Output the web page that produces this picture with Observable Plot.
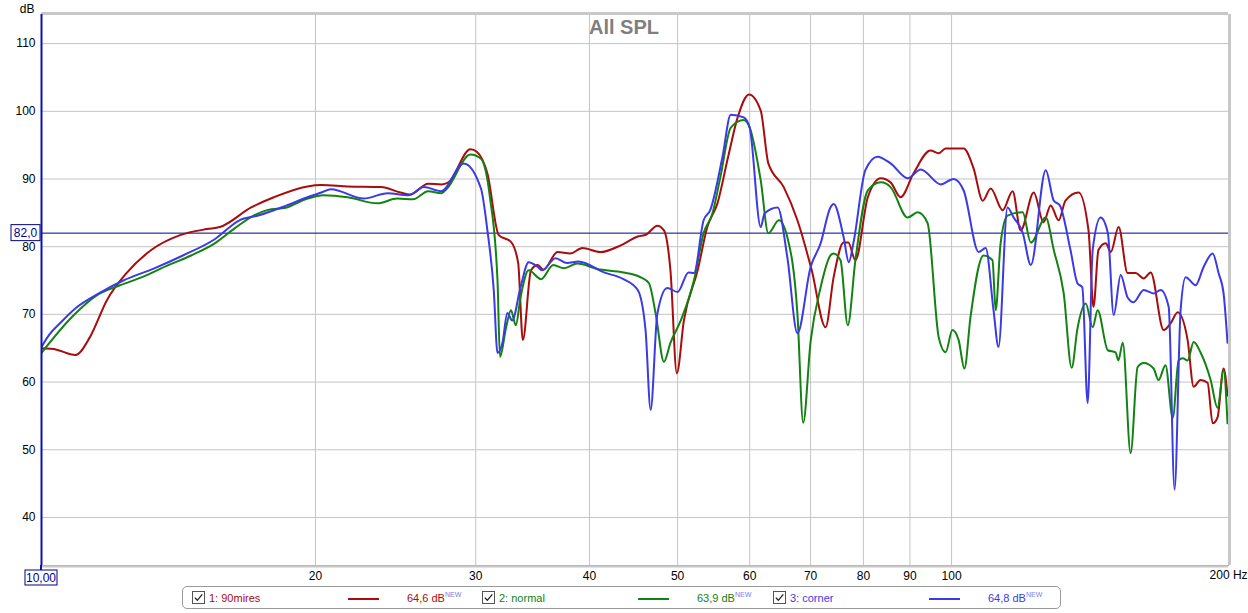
<!DOCTYPE html>
<html>
<head>
<meta charset="utf-8">
<script src="https://cdn.jsdelivr.net/npm/d3@7"></script>
<script src="https://cdn.jsdelivr.net/npm/@observablehq/plot@0.6"></script>
<style>
  html, body { margin: 0; padding: 0; background: #ffffff; }
  #wrap { position: relative; width: 1248px; height: 613px; font-family: "Liberation Sans", Arial, sans-serif; }
  #chart { position: absolute; left: 0; top: 0; }
  #legend { position: absolute; left: 182px; top: 586px; width: 879px; height: 23px; border: 1px solid #9a9a9a; border-radius: 5px; box-sizing: border-box; font-size: 11px; }
  .item { position: absolute; top: 4px; white-space: nowrap; line-height: 14px; }
  .cb { position: absolute; top: 4px; width: 13px; height: 13px; }
  .sw { position: absolute; top: 11px; height: 2px; width: 31px; }
  sup { font-size: 7px; color: #7a7af0; vertical-align: top; position: relative; top: -3px; }
</style>
</head>
<body>
<div id="wrap">
  <div id="chart"></div>
  <div id="legend"></div>
</div>
<script>
// ---- data ----
const xTicks = [20, 30, 40, 50, 60, 70, 80, 90, 100];
const yTicks = [40, 50, 60, 70, 80, 90, 100, 110];
const refLevel = 82.0;
const seriesNames = ["1: 90mires", "2: normal", "3: corner"];
const seriesLevels = ["64,6 dB", "63,9 dB", "64,8 dB"];
const seriesColors = ["#a80c0c", "#128212", "#3a3ae6"];

const redFreq = [10.0,10.3,10.9,11.3,11.8,12.4,13.2,14.2,15.2,15.7,17.0,18.0,19.6,20.3,21.7,23.6,24.8,25.4,26.6,27.5,28.0,29.6,30.1,30.9,31.8,32.8,33.4,33.8,34.5,35.1,35.6,36.9,38.1,39.3,41.1,43.3,45.2,46.2,47.5,48.3,49.1,49.9,50.8,52.6,53.9,55.3,56.8,58.2,59.9,61.7,62.9,65.4,67.7,70.2,72.7,74.2,76.1,77.0,78.4,80.9,83.6,85.7,87.9,90.8,94.8,96.8,98.5,103.1,105.7,108.2,110.4,113.8,116.7,119.1,123.1,126.2,128.5,131.1,133.4,137.9,141.4,143.2,145.0,147.7,149.6,152.6,156.1,159.3,162.6,165.5,171.0,174.1,177.2,181.7,184.5,187.7,191.1,193.6,196.0,199.0,201.0];
const redDb   = [65.0,64.9,64.0,66.6,72.1,76.1,79.5,81.7,82.6,82.9,85.8,87.3,88.9,89.1,88.9,88.8,88.0,87.7,89.3,89.2,89.5,94.4,94.0,90.8,81.7,80.7,77.6,66.2,76.5,77.3,76.6,79.2,79.0,79.8,79.2,80.2,81.5,81.8,83.1,82.4,76.5,61.3,69.1,76.5,82.9,86.4,93.2,99.1,102.5,100.1,92.3,88.8,83.9,76.5,68.1,75.5,80.6,80.6,78.0,87.3,90.1,89.5,87.3,90.8,94.2,93.8,94.5,94.5,91.6,86.8,88.6,85.4,88.2,82.4,88.0,83.6,86.1,83.9,86.8,88.0,82.4,71.1,79.5,80.5,79.2,82.9,76.1,76.1,75.3,76.2,67.7,68.7,70.3,66.2,59.3,60.3,59.9,53.9,54.8,62.0,58.0];

const greenFreq = [10.0,10.8,11.5,12.2,12.9,13.8,14.6,15.5,16.3,17.1,17.7,18.6,19.6,20.4,21.7,23.4,24.6,25.6,26.6,27.5,27.9,29.6,30.4,31.1,31.7,31.9,32.4,32.8,33.2,33.6,34.3,35.4,36.5,37.5,38.8,40.8,43.6,45.5,46.5,47.3,48.3,49.1,50.4,52.1,53.4,54.6,55.7,57.2,59.1,60.0,61.7,62.9,64.6,66.0,67.7,68.7,70.0,71.8,73.6,74.2,75.5,76.9,78.4,80.9,83.6,85.7,89.5,91.8,94.1,96.8,98.5,100.2,101.8,103.3,104.9,108.4,110.9,111.8,113.2,115.2,119.7,122.2,126.9,129.5,132.8,135.5,137.5,140.4,142.9,144.7,148.5,151.4,152.5,154.2,157.3,160.1,162.6,166.7,168.8,171.8,175.0,177.6,179.5,181.7,184.5,187.7,192.6,196.0,199.0,201.0];
const greenDb   = [64.3,69.6,72.8,74.3,75.5,77.3,78.7,80.5,82.7,84.6,85.4,85.8,87.1,87.6,87.3,86.4,87.1,87.0,88.2,87.9,88.6,93.6,93.0,87.3,75.0,63.7,68.1,70.6,68.4,72.5,76.5,75.2,77.3,76.8,77.5,76.7,76.2,75.5,74.6,70.1,63.0,65.8,69.1,75.0,82.0,84.9,90.2,97.6,98.7,97.6,89.8,82.0,83.9,81.4,70.1,54.0,66.0,74.0,78.7,79.0,78.0,68.4,78.0,88.3,89.5,88.8,84.3,85.1,83.5,66.6,64.4,67.7,66.2,62.0,69.6,78.7,78.0,70.6,80.5,84.6,85.1,80.6,84.3,79.5,73.1,62.1,67.9,71.6,68.1,70.6,64.7,64.4,63.2,65.8,49.5,62.2,62.8,62.0,60.3,62.5,54.7,63.2,63.5,63.2,65.9,64.4,60.3,56.2,61.7,53.9];

const blueFreq = [10.0,10.2,10.5,10.9,11.6,12.3,13.3,14.3,15.5,16.5,17.3,18.6,19.6,20.3,20.8,22.6,24.0,25.3,26.3,27.5,29.1,30.4,30.9,31.4,31.7,32.1,32.5,32.9,33.6,34.3,35.1,35.5,36.7,37.8,38.9,41.5,43.6,45.2,46.1,46.7,47.5,48.7,50.0,51.4,52.1,53.4,54.3,56.0,57.2,59.1,60.0,61.7,62.3,64.4,66.0,67.7,70.0,71.8,73.6,74.2,76.1,77.1,78.0,80.4,82.9,85.7,89.5,92.5,97.3,100.5,103.1,107.1,109.0,111.2,112.6,115.2,117.0,119.7,122.2,126.9,129.5,131.5,135.1,137.5,139.2,141.1,142.9,145.8,148.5,150.7,153.4,156.1,158.5,162.6,166.7,169.7,173.2,175.8,178.5,180.8,185.4,189.2,193.6,196.5,199.0,201.0];
const blueDb   = [65.2,67.0,68.8,70.9,73.2,75.0,76.8,78.7,81.1,83.9,84.6,86.1,87.3,88.0,88.5,87.1,87.9,87.6,88.8,88.2,92.3,88.6,82.4,73.6,64.3,65.8,70.2,69.1,74.0,77.7,77.0,76.5,78.3,77.6,77.8,76.2,75.2,73.6,67.7,55.9,70.1,73.9,73.3,76.2,76.1,83.9,85.4,93.2,99.5,99.1,97.6,82.9,84.9,85.8,78.4,67.2,77.0,80.5,85.8,86.3,81.4,77.7,80.5,91.3,93.3,92.3,90.1,91.4,89.2,90.0,88.3,79.2,79.8,70.6,65.2,85.8,84.3,82.1,77.3,91.3,86.8,86.1,79.5,74.6,74.0,56.9,79.5,84.3,82.0,69.9,75.8,72.5,71.8,73.6,73.1,73.6,71.1,44.1,70.6,75.5,74.3,77.0,79.0,76.1,73.1,65.8];

// ---- tables for the library ----
const red = redFreq.map((f, i) => ({f, db: redDb[i]}));
const green = greenFreq.map((f, i) => ({f, db: greenDb[i]}));
const blue = blueFreq.map((f, i) => ({f, db: blueDb[i]}));

const FONT = "'Liberation Sans', Arial, sans-serif";
const NAVY = "#00008b";

// boxed label for the reference level on the y axis
function refLevelBox(index, scales) {
  const y = scales.y(refLevel);
  const x0 = scales.x(10);
  const g = d3.create("svg:g");
  g.append("rect").attr("x", x0 - 30).attr("y", y - 8).attr("width", 29).attr("height", 16)
    .attr("fill", "#fff").attr("stroke", NAVY).attr("stroke-width", 1);
  g.append("text").attr("x", x0 - 15.5).attr("y", y + 4.5).attr("text-anchor", "middle")
    .attr("font-size", 12).attr("font-family", FONT).attr("fill", NAVY).text(refLevel.toFixed(1).replace(".", ","));
  return g.node();
}
// boxed label for the start frequency
function startBox(index, scales, values, dims) {
  const x0 = scales.x(10);
  const yb = dims.height - dims.marginBottom;
  const g = d3.create("svg:g");
  g.append("line").attr("x1", x0).attr("x2", x0).attr("y1", yb).attr("y2", yb + 6).attr("stroke", "#1010b0").attr("stroke-width", 2);
  g.append("rect").attr("x", x0 - 16).attr("y", yb + 5).attr("width", 32).attr("height", 15)
    .attr("fill", "#fff").attr("stroke", NAVY).attr("stroke-width", 1);
  g.append("text").attr("x", x0).attr("y", yb + 16.5).attr("text-anchor", "middle")
    .attr("font-size", 12).attr("font-family", FONT).attr("fill", NAVY).text("10,00");
  return g.node();
}

const chart = Plot.plot({
  width: 1248,
  height: 586,
  marginLeft: 41,
  marginRight: 20,
  marginTop: 14,
  marginBottom: 21,
  style: {fontFamily: FONT, fontSize: "12px", background: "#fff", overflow: "visible"},
  x: {type: "log", domain: [10, 201.5]},
  y: {domain: [32.9, 114.3]},
  marks: [
    Plot.gridX(xTicks, {stroke: "#c4c4c4", strokeOpacity: 1}),
    Plot.gridY(yTicks, {stroke: "#c4c4c4", strokeOpacity: 1}),
    Plot.frame({stroke: "#a8a8a8"}),
    Plot.ruleY([114.3], {stroke: "#c8c8c8", strokeWidth: 3, dy: -1}),
    Plot.ruleX([201.5], {stroke: "#c8c8c8", strokeWidth: 3, dx: 1}),
    Plot.ruleY([32.9], {stroke: "#c8c8c8", strokeWidth: 2, dy: 1}),
    Plot.axisX(xTicks, {tickSize: 0, tickPadding: 6, fontSize: 12, fill: "#000", tickFormat: d => String(d), label: null}),
    Plot.axisY(yTicks, {tickSize: 0, tickPadding: 6, fontSize: 12, fill: "#000", tickFormat: d => String(d), label: null}),
    Plot.text(["200 Hz"], {x: 200, frameAnchor: "bottom", dy: 13, dx: -16, textAnchor: "start", fontSize: 12, fill: "#000"}),
    Plot.text(["dB"], {frameAnchor: "top-left", dx: -7, dy: -10, textAnchor: "end", fontSize: 12, fill: "#000"}),
    Plot.text(["All SPL"], {frameAnchor: "top", dx: -11, dy: 13, lineAnchor: "middle", fontSize: 20, fontWeight: "bold", fill: "#7f7f7f"}),
    Plot.ruleY([refLevel], {stroke: NAVY, strokeWidth: 1}),
    Plot.line(red, {x: "f", y: "db", stroke: seriesColors[0], strokeWidth: 2, curve: "monotone-x", clip: true}),
    Plot.line(green, {x: "f", y: "db", stroke: seriesColors[1], strokeWidth: 2, curve: "monotone-x", clip: true}),
    Plot.line(blue, {x: "f", y: "db", stroke: seriesColors[2], strokeWidth: 2, curve: "monotone-x", clip: true}),
    Plot.ruleX([10], {stroke: "#1010b0", strokeWidth: 2}),
    refLevelBox,
    startBox
  ]
});
document.getElementById("chart").appendChild(chart);

// ---- legend ----
const legend = document.getElementById("legend");
const offsets = [0, 290, 581];
const checkSvg = '<svg class="cb" viewBox="0 0 13 13" width="13" height="13"><rect x="0.5" y="0.5" width="12" height="12" fill="#fff" stroke="#555"/><path d="M2.8 6.6 L5.3 9.3 L10.3 3.3" fill="none" stroke="#222" stroke-width="1.3"/></svg>';
seriesNames.forEach((name, i) => {
  const o = offsets[i];
  const c = seriesColors[i];
  legend.insertAdjacentHTML("beforeend",
    `<div style="position:absolute;left:${o + 9}px;top:0">${checkSvg}</div>` +
    `<div class="item" style="left:${o + 26}px;color:${c}">${name}</div>` +
    `<div class="sw" style="left:${o + 165}px;background:${c}"></div>` +
    `<div class="item" style="left:${o + 224}px;color:${c}">${seriesLevels[i]}<sup>NEW</sup></div>`);
});
</script>
</body>
</html>
